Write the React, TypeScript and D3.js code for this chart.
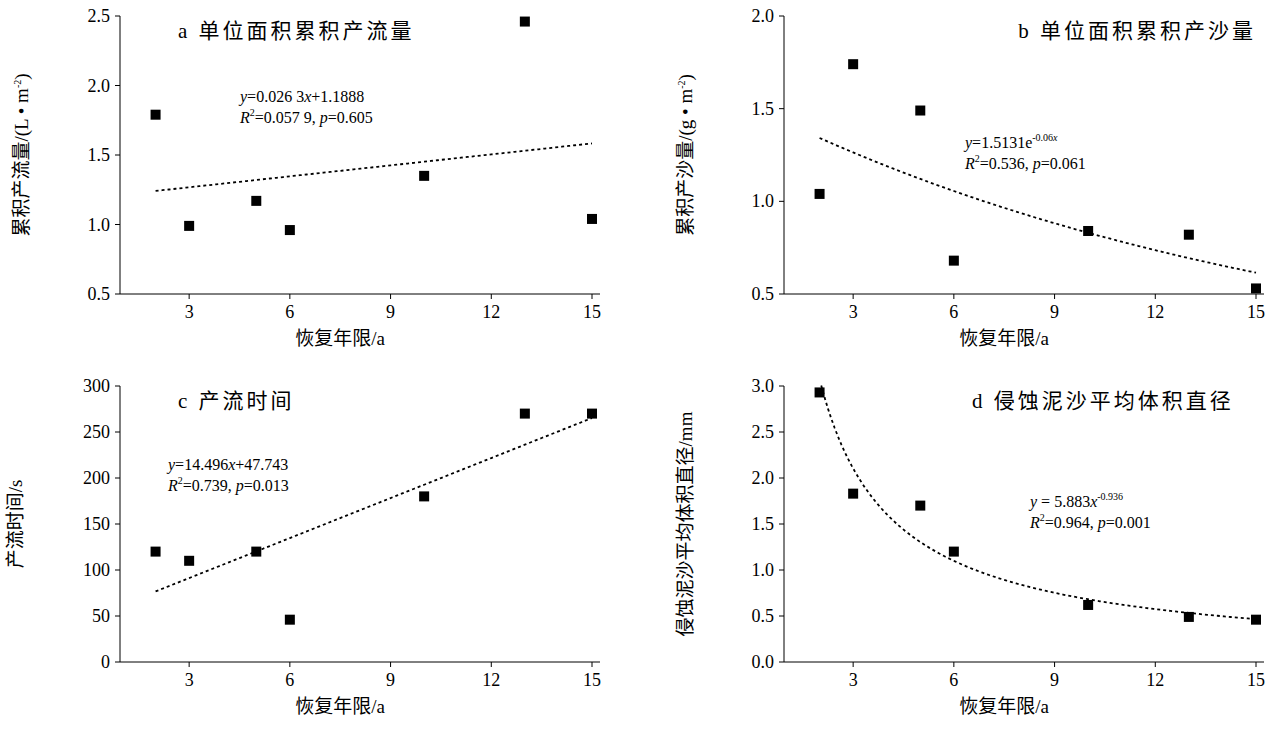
import React from "react";
import * as d3 from "d3";

const years = [2, 3, 5, 6, 10, 13, 15];
const runoffA = [1.79, 0.99, 1.17, 0.96, 1.35, 2.46, 1.04];
const sedimentB = [1.04, 1.74, 1.49, 0.68, 0.84, 0.82, 0.53];
const timeC = [120, 110, 120, 46, 180, 270, 270];
const diameterD = [2.93, 1.83, 1.7, 1.2, 0.62, 0.49, 0.46];
const xTicks = [3, 6, 9, 12, 15];
const ticksA = [0.5, 1.0, 1.5, 2.0, 2.5];
const ticksB = [0.5, 1.0, 1.5, 2.0];
const ticksC = [0, 50, 100, 150, 200, 250, 300];
const ticksD = [0, 0.5, 1.0, 1.5, 2.0, 2.5, 3.0];

const FONT = "'Liberation Serif','Noto Sans CJK SC',serif";

type P = {
  x0: number; x1: number; yTop: number; yBot: number;
  yDom: [number, number]; yTicks: number[]; fmt: (v: number) => string;
  vals: number[]; fit: (x: number) => number; fitStart: number;
  title: string; titleX: number; titleAnchor: string;
  ylabel: React.ReactNode; ylabelX: number;
  eq: React.ReactNode; eqX: number; eqY: number;
};

function Panel(p: P) {
  const x = d3.scaleLinear().domain([1, 15]).range([p.x0, p.x1]);
  const y = d3.scaleLinear().domain(p.yDom).range([p.yBot, p.yTop]);
  const xs = d3.range(p.fitStart, 15.001, 0.1);
  const line = d3.line<number>().x((d) => x(d)).y((d) => y(p.fit(d)));
  const ax = p.x0 - 2;
  return (
    <g fontFamily={FONT}>
      <line x1={ax} x2={ax} y1={p.yTop} y2={p.yBot} stroke="#000" />
      <line x1={ax} x2={p.x1 + 8} y1={p.yBot} y2={p.yBot} stroke="#000" />
      {p.yTicks.map((t) => (
        <g key={t}>
          <line x1={ax - 5} x2={ax} y1={y(t)} y2={y(t)} stroke="#000" />
          <text x={ax - 10} y={y(t) + 6} textAnchor="end" fontSize={18}>{p.fmt(t)}</text>
        </g>
      ))}
      {xTicks.map((t) => (
        <g key={t}>
          <line x1={x(t)} x2={x(t)} y1={p.yBot} y2={p.yBot + 5} stroke="#000" />
          <text x={x(t)} y={p.yBot + 24} textAnchor="middle" fontSize={18}>{t}</text>
        </g>
      ))}
      <text x={(p.x0 + p.x1) / 2 - 17} y={p.yBot + 51} textAnchor="middle" fontSize={19}>恢复年限/a</text>
      <text transform={`translate(${p.ylabelX},${(p.yTop + p.yBot) / 2}) rotate(-90)`} textAnchor="middle" fontSize={19}>{p.ylabel}</text>
      <path d={line(xs) || ""} fill="none" stroke="#000" strokeWidth={1.8} strokeDasharray="3,3" />
      {p.vals.map((v, i) => (
        <rect key={i} x={x(years[i]) - 5} y={y(v) - 5} width={10} height={10} fill="#000" />
      ))}
      <text x={p.titleX} y={p.yTop + 22} textAnchor={p.titleAnchor as any} fontSize={21} letterSpacing={3}>{p.title}</text>
      <g transform={`translate(${p.eqX},${p.eqY})`} fontSize={16}>{p.eq}</g>
    </g>
  );
}

const sup = (s: string) => <tspan fontSize={10} dy={-7}>{s}</tspan>;

export default function App() {
  return (
    <svg width={1280} height={730} style={{ display: "block", position: "absolute", left: 0, top: 0 }}>
      <rect width={1280} height={730} fill="#fff" />
      <Panel x0={122} x1={592} yTop={16} yBot={294} yDom={[0.5, 2.5]} yTicks={ticksA}
        fmt={(v) => v.toFixed(1)} vals={runoffA} fit={(v) => 0.0263 * v + 1.1888} fitStart={2}
        title="a 单位面积累积产流量" titleX={178} titleAnchor="start"
        ylabel={<>累积产流量/(L • m{sup("-2")}<tspan dy={7}>)</tspan></>} ylabelX={28}
        eqX={240} eqY={102}
        eq={<><text><tspan fontStyle="italic">y</tspan>=0.026 3<tspan fontStyle="italic">x</tspan>+1.1888</text>
          <text y={21}><tspan fontStyle="italic">R</tspan>{sup("2")}<tspan dy={7}>=0.057 9,  </tspan><tspan fontStyle="italic">p</tspan>=0.605</text></>} />
      <Panel x0={786} x1={1256} yTop={16} yBot={294} yDom={[0.5, 2.0]} yTicks={ticksB}
        fmt={(v) => v.toFixed(1)} vals={sedimentB} fit={(v) => 1.5131 * Math.exp(-0.06 * v)} fitStart={2}
        title="b 单位面积累积产沙量" titleX={1256} titleAnchor="end"
        ylabel={<>累积产沙量/(g • m{sup("-2")}<tspan dy={7}>)</tspan></>} ylabelX={692}
        eqX={965} eqY={148}
        eq={<><text><tspan fontStyle="italic">y</tspan>=1.5131e{sup("-0.06")}<tspan fontSize={10} fontStyle="italic">x</tspan></text>
          <text y={21}><tspan fontStyle="italic">R</tspan>{sup("2")}<tspan dy={7}>=0.536,  </tspan><tspan fontStyle="italic">p</tspan>=0.061</text></>} />
      <Panel x0={122} x1={592} yTop={386} yBot={662} yDom={[0, 300]} yTicks={ticksC}
        fmt={(v) => String(v)} vals={timeC} fit={(v) => 14.496 * v + 47.743} fitStart={2}
        title="c 产流时间" titleX={178} titleAnchor="start"
        ylabel={<>产流时间/s</>} ylabelX={22}
        eqX={168} eqY={470}
        eq={<><text><tspan fontStyle="italic">y</tspan>=14.496<tspan fontStyle="italic">x</tspan>+47.743</text>
          <text y={21}><tspan fontStyle="italic">R</tspan>{sup("2")}<tspan dy={7}>=0.739,  </tspan><tspan fontStyle="italic">p</tspan>=0.013</text></>} />
      <Panel x0={786} x1={1256} yTop={386} yBot={662} yDom={[0, 3.0]} yTicks={ticksD}
        fmt={(v) => v.toFixed(1)} vals={diameterD} fit={(v) => 5.883 * Math.pow(v, -0.936)} fitStart={2.05}
        title="d 侵蚀泥沙平均体积直径" titleX={972} titleAnchor="start"
        ylabel={<>侵蚀泥沙平均体积直径/mm</>} ylabelX={692}
        eqX={1030} eqY={507}
        eq={<><text><tspan fontStyle="italic">y</tspan> = 5.883<tspan fontStyle="italic">x</tspan>{sup("-0.936")}</text>
          <text y={21}><tspan fontStyle="italic">R</tspan>{sup("2")}<tspan dy={7}>=0.964,  </tspan><tspan fontStyle="italic">p</tspan>=0.001</text></>} />
    </svg>
  );
}
